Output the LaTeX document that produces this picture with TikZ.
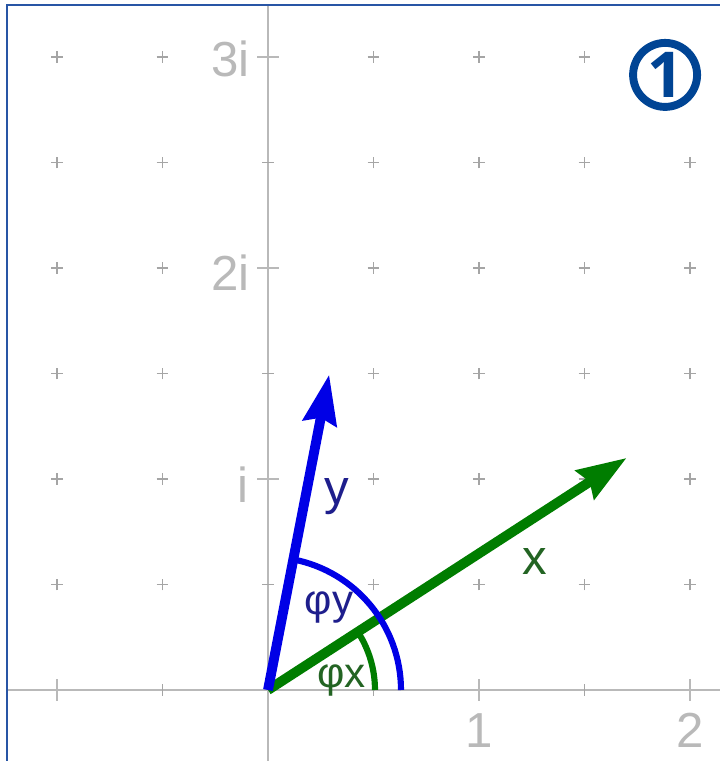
\documentclass[tikz,border=0pt]{standalone}
\usepackage{fontspec}
\setmainfont{Liberation Sans}
\newfontfamily\markfont{Open Sans}
\usepackage{xcolor}
\usetikzlibrary{arrows.meta}

\definecolor{framblue}{RGB}{40,85,165}
\definecolor{axisgray}{RGB}{185,185,185}
\definecolor{crossgray}{RGB}{165,165,165}
\definecolor{vecblue}{RGB}{0,0,230}
\definecolor{vecgreen}{RGB}{0,125,0}
\definecolor{lblblue}{RGB}{30,30,140}
\definecolor{lblgreen}{RGB}{35,100,35}
\definecolor{markblue}{RGB}{0,68,148}

\begin{document}
\begin{tikzpicture}[x=4.22cm, y=4.22cm,
    axis/.style={axisgray, line width=1.2pt},
    cross/.style={crossgray, line width=0.8pt},
    vec/.style={-{Stealth[length=28pt, width=19pt, inset=3pt]}, line width=5.6pt},
    ang/.style={line width=3.5pt},
    lbl/.style={inner sep=0pt, font=\fontsize{28}{30}\selectfont},
    anglbl/.style={inner sep=0pt, font=\fontsize{24}{26}\selectfont},
    ticklbl/.style={lbl, axisgray}]
    \useasboundingbox (-1.270,-0.3365) rectangle (2.142,3.270);

    % grid of little crosses
    \foreach \x in {-1,-0.5,0.5,1,1.5,2}
        \foreach \y in {0.5,1,...,3}
            \draw[cross] (\x,\y) +(-0.028,0) -- +(0.028,0) +(0,-0.028) -- +(0,0.028);

    % axes
    \coordinate (O) at (0,0);
    \draw[axis] (-1.237,0) -- (2.142,0);
    \draw[axis] (0,-0.3365) -- (0,3.246);
    \foreach \x in {-1,1,2}
        \draw[axis] (\x,-0.052) -- (\x,0.052);
    \foreach \x in {-0.5,0.5,1.5}
        \draw[cross] (\x,-0.028) -- (\x,0.028);
    \foreach \y in {1,2,3}
        \draw[axis] (-0.052,\y) -- (0.052,\y);
    \foreach \y in {0.5,1.5,2.5}
        \draw[cross] (-0.028,\y) -- (0.028,\y);

    \node[ticklbl, anchor=north] (re1) at (1,-0.11) {1};
    \node[ticklbl, anchor=north] (re2) at (2,-0.11) {2};
    \node[ticklbl, anchor=east]  (im1) at (-0.09,0.975) {i};
    \node[ticklbl, anchor=east]  (im2) at (-0.085,1.98) {2i};
    \node[ticklbl, anchor=east]  (im3) at (-0.085,2.99) {3i};

    % frame
    \draw[framblue, line width=1.5pt] (-1.237,-0.3365) -- (-1.237,3.246) -- (2.142,3.246);

    % the two numbers
    \coordinate (X) at (1.70,1.10);
    \coordinate (Y) at (0.29,1.495);

    \draw[vec, vecgreen] (O) -- (X);
    \draw[ang, vecgreen] (O) ++(0:2.14cm) arc[start angle=0, end angle=32.9, radius=2.14cm];
    \draw[ang, vecblue] (O) ++(0:2.66cm) arc[start angle=0, end angle=79, radius=2.66cm];
    \draw[vec, vecblue] (O) -- (Y);

    \node[lbl, lblgreen] (xl)   at (1.265,0.607) {x};
    \node[lbl, lblblue]  (yl)   at (0.327,0.915) {y};
    \node[anglbl, lblblue]  (phy)  at (0.29,0.39) {φy};
    \node[anglbl, lblgreen] (phx)  at (0.35,0.045) {φx};

    % step number
    \node[circle, draw=markblue, line width=4.5pt, fill=white, minimum size=1.28cm,
          inner sep=0pt, text=markblue, font=\markfont\bfseries\fontsize{36}{36}\selectfont]
          (mark) at (1.882,2.915) {1};
\end{tikzpicture}
\end{document}
